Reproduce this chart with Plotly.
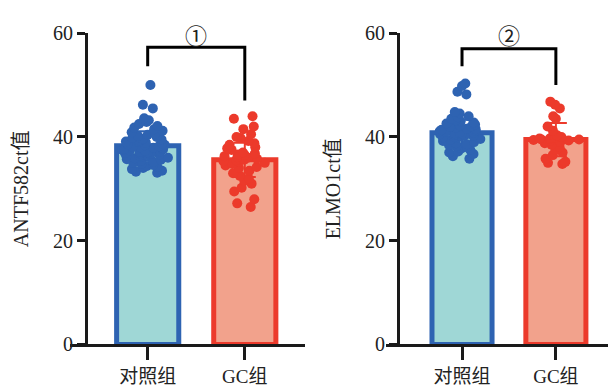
import plotly.graph_objects as go

# ---------------- data ----------------
categories = ["对照组", "GC组"]

# panel 1 : ANTF582 ct
antf_bar = [38.3, 35.6]
antf_sd = [2.8, 3.3]
antf_ctrl = [50.0, 46.2, 45.5, 43.6, 43.2, 42.9, 42.5, 42.1, 41.8, 41.5, 41.2, 40.9,
             40.6, 40.4, 40.2, 40.0, 39.8, 39.6, 39.5, 39.3, 39.1, 39.0, 38.9, 38.7,
             38.6, 38.5, 38.4, 38.2, 38.1, 38.0, 37.9, 37.8, 37.7, 37.6, 37.5, 37.4,
             37.3, 37.2, 37.1, 37.0, 36.9, 36.8, 36.7, 36.6, 36.5, 36.4, 36.3, 36.2,
             36.0, 35.9, 35.7, 35.6, 35.4, 35.2, 35.0, 34.8, 34.6, 34.4, 34.2, 34.0,
             33.8, 33.5, 33.3, 33.1]
antf_gc = [44.0, 43.5, 42.0, 41.5, 40.5, 40.0, 39.8, 39.2, 38.8, 38.5, 38.0, 37.8,
           37.5, 37.0, 36.8, 36.6, 36.5, 36.3, 36.1, 36.0, 35.8, 35.6, 35.5, 35.3,
           35.2, 35.0, 34.8, 34.5, 34.2, 34.0, 33.5, 33.0, 32.5, 32.0, 31.5, 31.0,
           30.2, 29.5, 28.0, 27.2, 26.5]

# panel 2 : ELMO1 ct
elmo_bar = [40.8, 39.5]
elmo_sd = [2.5, 3.2]
elmo_ctrl = [50.3, 49.8, 48.7, 48.2, 44.8, 44.5, 44.0, 43.8, 43.5, 43.2, 43.0, 42.8,
             42.6, 42.4, 42.2, 42.0, 41.9, 41.8, 41.6, 41.5, 41.4, 41.2, 41.1, 41.0,
             40.9, 40.8, 40.7, 40.6, 40.5, 40.4, 40.3, 40.2, 40.1, 40.0, 39.9, 39.8,
             39.6, 39.4, 39.2, 39.0, 38.8, 38.6, 38.4, 38.2, 38.0, 37.8, 37.5, 37.2,
             37.0, 36.7, 36.3, 35.8]
elmo_gc = [46.8, 46.2, 45.5, 44.0, 43.5, 42.0, 41.2, 40.3, 40.0, 39.9, 39.8, 39.7,
           39.6, 39.5, 39.5, 39.4, 39.3, 39.2, 39.0, 38.8, 38.5, 38.0, 37.5, 37.0,
           36.5, 35.8, 35.2, 35.0, 34.8]

y_titles = ["ANTF582ct值", "ELMO1ct值"]
marks = ["①", "②"]
# bracket: [left leg bottom, top, right leg bottom]
brackets = [[53.6, 57.3, 47.0], [53.6, 57.0, 50.0]]
mark_y = 59.4
y_ticks = [0, 20, 40, 60]

# ---------------- style ----------------
FILL = ["#9fd7d6", "#f2a28c"]
EDGE = ["#2e63b2", "#ec3a2b"]
SERIF = "Liberation Serif, Noto Sans CJK SC, serif"
TXT = "#222222"

fig = go.Figure()

panels = [
    dict(bar=antf_bar, sd=antf_sd, pts=[antf_ctrl, antf_gc], xs="x", ys="y",
         xdom=[62 / 616, 297 / 616], ypos=78 / 616),
    dict(bar=elmo_bar, sd=elmo_sd, pts=[elmo_ctrl, elmo_gc], xs="x2", ys="y2",
         xdom=[378 / 616, 607 / 616], ypos=390 / 616),
]

ydom = [1 - 345 / 389, 1 - 15 / 389]

for i, p in enumerate(panels):
    for j in range(2):
        fig.add_trace(go.Bar(
            x=[categories[j]], y=[p["bar"][j]], width=0.64,
            marker=dict(color=FILL[j], line=dict(color=EDGE[j], width=5)),
            error_y=dict(type="data", array=[p["sd"][j]], color=EDGE[j],
                         thickness=2, width=11),
            xaxis=p["xs"], yaxis=p["ys"], showlegend=False, hoverinfo="skip",
        ))
    for j, vals in enumerate(p["pts"]):
        fig.add_trace(go.Box(
            x=[categories[j]] * len(vals), y=vals,
            boxpoints="all", jitter=0.9, pointpos=0, width=0.62,
            fillcolor="rgba(0,0,0,0)", line=dict(width=0, color="rgba(0,0,0,0)"),
            marker=dict(color=EDGE[j], size=10, line=dict(width=0)),
            xaxis=p["xs"], yaxis=p["ys"], showlegend=False, hoverinfo="skip",
        ))
    b = brackets[i]
    xr = p["xs"]
    yr = p["ys"]
    fig.add_shape(type="path", xref=xr, yref=yr,
                  path=f"M 0 {b[0]} L 0 {b[1]} L 1 {b[1]} L 1 {b[2]}",
                  line=dict(color="black", width=3))
    fig.add_annotation(x=0.5, y=mark_y, xref=xr, yref=yr, text=marks[i],
                       showarrow=False, font=dict(family=SERIF, size=22, color=TXT))

axis_common = dict(showgrid=False, zeroline=False, showline=True, linecolor="#1a1a1a",
                   linewidth=3, ticks="outside", tickcolor="#1a1a1a", tickwidth=3)

fig.update_layout(
    width=616, height=389, margin=dict(l=0, r=0, t=0, b=0),
    paper_bgcolor="white", plot_bgcolor="white",
    boxmode="overlay", barmode="overlay",
    xaxis=dict(domain=panels[0]["xdom"], anchor="y", type="category",
               range=[-0.80, 1.62], ticklen=13,
               tickfont=dict(family=SERIF, size=19, color=TXT), **axis_common),
    yaxis=dict(domain=ydom, anchor="free", position=panels[0]["ypos"], range=[0, 60],
               tickvals=y_ticks, ticklen=8,
               tickfont=dict(family=SERIF, size=20, color=TXT),
               title=dict(text=y_titles[0], font=dict(family=SERIF, size=20, color=TXT),
                          standoff=17),
               **axis_common),
    xaxis2=dict(domain=panels[1]["xdom"], anchor="y2", type="category",
                range=[-0.81, 1.63], ticklen=13,
                tickfont=dict(family=SERIF, size=19, color=TXT), **axis_common),
    yaxis2=dict(domain=ydom, anchor="free", position=panels[1]["ypos"], range=[0, 60],
                tickvals=y_ticks, ticklen=8,
                tickfont=dict(family=SERIF, size=20, color=TXT),
                title=dict(text=y_titles[1], font=dict(family=SERIF, size=20, color=TXT),
                           standoff=17),
                **axis_common),
)

fig.write_html("out.html")
